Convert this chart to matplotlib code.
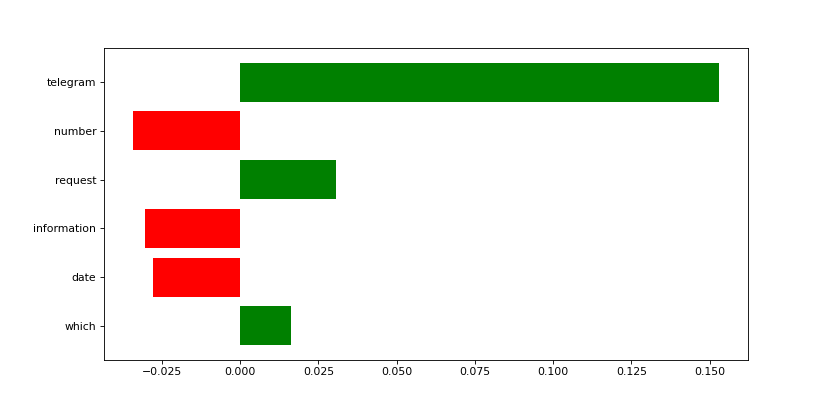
import matplotlib
matplotlib.use('Agg')
import matplotlib.pyplot as plt

# features and their weights, top of chart first
features = ['telegram', 'number', 'request', 'information', 'date', 'which']
weights = [0.1529, -0.0342, 0.0307, -0.0304, -0.0278, 0.0163]

# barh draws from bottom up, so reverse
vals = weights[::-1]
names = features[::-1]
colors = ['green' if v > 0 else 'red' for v in vals]
pos = list(range(len(vals)))

fig = plt.figure(figsize=(831 / 78, 404 / 78), dpi=78)
plt.barh(pos, vals, align='center', color=colors)
plt.yticks(pos, names)

plt.savefig('out.png', dpi=78)
